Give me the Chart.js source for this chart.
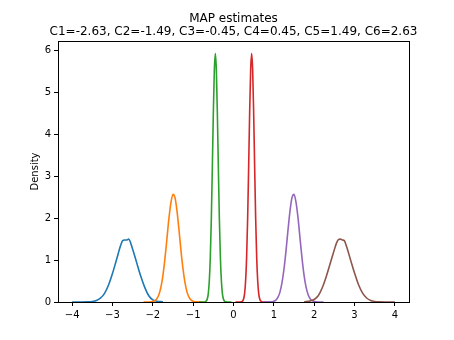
<!DOCTYPE html>
<html>
<head>
<meta charset="utf-8">
<script src="https://cdn.jsdelivr.net/npm/chart.js@4.4.1/dist/chart.umd.min.js"></script>
<style>
  body { margin: 0; background: #fff; }
  canvas { display: block; }
</style>
</head>
<body>
<canvas id="densityChart" width="454" height="340"></canvas>
<script>
const titleLines = ['MAP estimates', 'C1=-2.63, C2=-1.49, C3=-0.45, C4=0.45, C5=1.49, C6=2.63'];
const seriesNames = ['C1', 'C2', 'C3', 'C4', 'C5', 'C6'];
const seriesColors = ['#1f77b4', '#ff7f0e', '#2ca02c', '#d62728', '#9467bd', '#8c564b'];

const xTicks = [-4, -3, -2, -1, 0, 1, 2, 3, 4];
const yTicks = [0, 1, 2, 3, 4, 5, 6];

// density curves
const c1X = [-4.0, -3.8, -3.6, -3.5, -3.4, -3.3, -3.2, -3.1, -3.0, -2.9, -2.8, -2.75, -2.7, -2.65, -2.6, -2.5, -2.4, -2.3, -2.2, -2.1, -2.0, -1.9, -1.8, -1.75];
const c1Y = [0, 0.0002, 0.0035, 0.012, 0.035, 0.09, 0.2, 0.4, 0.68, 1.01, 1.34, 1.46, 1.48, 1.48, 1.5, 1.26, 0.94, 0.62, 0.35, 0.15, 0.05, 0.02, 0.008, 0.004];

const c2X = [-2.23, -2.1, -2.0, -1.95, -1.9, -1.85, -1.8, -1.75, -1.7, -1.65, -1.6, -1.55, -1.5, -1.45, -1.4, -1.35, -1.3, -1.25, -1.2, -1.15, -1.1, -1.05, -1.0, -0.9, -0.75];
const c2Y = [0, 0.001, 0.012, 0.031, 0.078, 0.173, 0.348, 0.63, 1.03, 1.51, 2.0, 2.38, 2.57, 2.49, 2.17, 1.71, 1.21, 0.78, 0.45, 0.23, 0.108, 0.046, 0.017, 0.002, 0];

const c3X = [-0.85, -0.75, -0.7, -0.65, -0.625, -0.6, -0.575, -0.55, -0.525, -0.5, -0.475, -0.45, -0.425, -0.4, -0.375, -0.35, -0.325, -0.3, -0.275, -0.25, -0.2, -0.05];
const c3Y = [0, 0.0003, 0.006, 0.072, 0.2, 0.5, 1.06, 1.97, 3.19, 4.5, 5.53, 5.93, 5.53, 4.5, 3.19, 1.97, 1.06, 0.5, 0.2, 0.072, 0.006, 0];

const c4X = [0.05, 0.2, 0.25, 0.275, 0.3, 0.325, 0.35, 0.375, 0.4, 0.425, 0.45, 0.475, 0.5, 0.525, 0.55, 0.575, 0.6, 0.625, 0.65, 0.7, 0.75, 0.85];
const c4Y = [0, 0.006, 0.072, 0.2, 0.5, 1.06, 1.97, 3.19, 4.5, 5.53, 5.93, 5.53, 4.5, 3.19, 1.97, 1.06, 0.5, 0.2, 0.072, 0.006, 0.0003, 0];

const c5X = [0.75, 0.9, 1.0, 1.05, 1.1, 1.15, 1.2, 1.25, 1.3, 1.35, 1.4, 1.45, 1.5, 1.55, 1.6, 1.65, 1.7, 1.75, 1.8, 1.85, 1.9, 1.95, 2.0, 2.1, 2.23];
const c5Y = [0, 0.002, 0.017, 0.046, 0.108, 0.23, 0.45, 0.78, 1.21, 1.71, 2.17, 2.49, 2.57, 2.38, 2.0, 1.51, 1.03, 0.63, 0.348, 0.173, 0.078, 0.031, 0.012, 0.001, 0];

const c6X = [1.75, 1.8, 1.9, 2.0, 2.1, 2.2, 2.3, 2.4, 2.5, 2.55, 2.6, 2.65, 2.7, 2.75, 2.8, 2.9, 3.0, 3.1, 3.2, 3.3, 3.4, 3.5, 3.6, 3.8, 4.0];
const c6Y = [0.004, 0.008, 0.025, 0.06, 0.15, 0.34, 0.61, 0.93, 1.25, 1.4, 1.49, 1.5, 1.48, 1.46, 1.33, 1.01, 0.69, 0.41, 0.21, 0.095, 0.038, 0.013, 0.004, 0.0003, 0];

const allX = [c1X, c2X, c3X, c4X, c5X, c6X];
const allY = [c1Y, c2Y, c3Y, c4Y, c5Y, c6Y];

const fmt = v => (v < 0 ? '\u2212' + Math.abs(v) : String(v));

const datasets = seriesNames.map((name, i) => ({
    label: name,
    data: allX[i].map((x, j) => ({ x: x, y: allY[i][j] })),
    borderColor: seriesColors[i],
    borderWidth: 1.6,
    pointRadius: 0,
    fill: false,
    cubicInterpolationMode: 'monotone',
    order: seriesNames.length - i
}));

// axes box plus a title centred over the axes, like matplotlib
const frame = {
    id: 'frame',
    afterDatasetsDraw(chart) {
        const a = chart.chartArea;
        const ctx = chart.ctx;
        ctx.save();
        ctx.strokeStyle = '#000';
        ctx.lineWidth = 1;
        ctx.strokeRect(Math.round(a.left) + 0.5, Math.round(a.top) + 0.5,
            Math.round(a.right - a.left), Math.round(a.bottom - a.top));
        ctx.fillStyle = '#000';
        ctx.font = '12px "DejaVu Sans"';
        ctx.textAlign = 'center';
        ctx.textBaseline = 'alphabetic';
        const cx = (a.left + a.right) / 2;
        ctx.fillText(titleLines[0], cx, 22);
        ctx.fillText(titleLines[1], cx, 35);
        ctx.restore();
    }
};

const tickFont = { family: 'DejaVu Sans', size: 10 };

new Chart(document.getElementById('densityChart').getContext('2d'), {
    type: 'line',
    data: { datasets: datasets },
    plugins: [frame],
    options: {
        responsive: false,
        animation: false,
        devicePixelRatio: 1,
        layout: { padding: { left: 0, right: 45, top: 41, bottom: 0 } },
        plugins: {
            legend: { display: false },
            tooltip: { enabled: false },
            title: { display: false }
        },
        scales: {
            x: {
                type: 'linear',
                min: -4.35,
                max: 4.35,
                afterBuildTicks: s => { s.ticks = xTicks.map(v => ({ value: v })); },
                afterFit: s => { s.height = 38; },
                grid: { drawOnChartArea: false, drawTicks: true, tickLength: 4, color: '#000' },
                border: { display: false },
                ticks: { color: '#000', font: tickFont, padding: 3, maxRotation: 0, callback: fmt }
            },
            y: {
                type: 'linear',
                min: 0,
                max: 6.23,
                afterBuildTicks: s => { s.ticks = yTicks.map(v => ({ value: v })); },
                afterFit: s => { s.width = 58; },
                grid: { drawOnChartArea: false, drawTicks: true, tickLength: 4, color: '#000' },
                border: { display: false },
                title: {
                    display: true,
                    text: 'Density',
                    color: '#000',
                    font: { family: 'DejaVu Sans', size: 10 },
                    padding: { top: 29, bottom: 0 }
                },
                ticks: { color: '#000', font: tickFont, padding: 3, callback: fmt }
            }
        }
    }
});
</script>
</body>
</html>
